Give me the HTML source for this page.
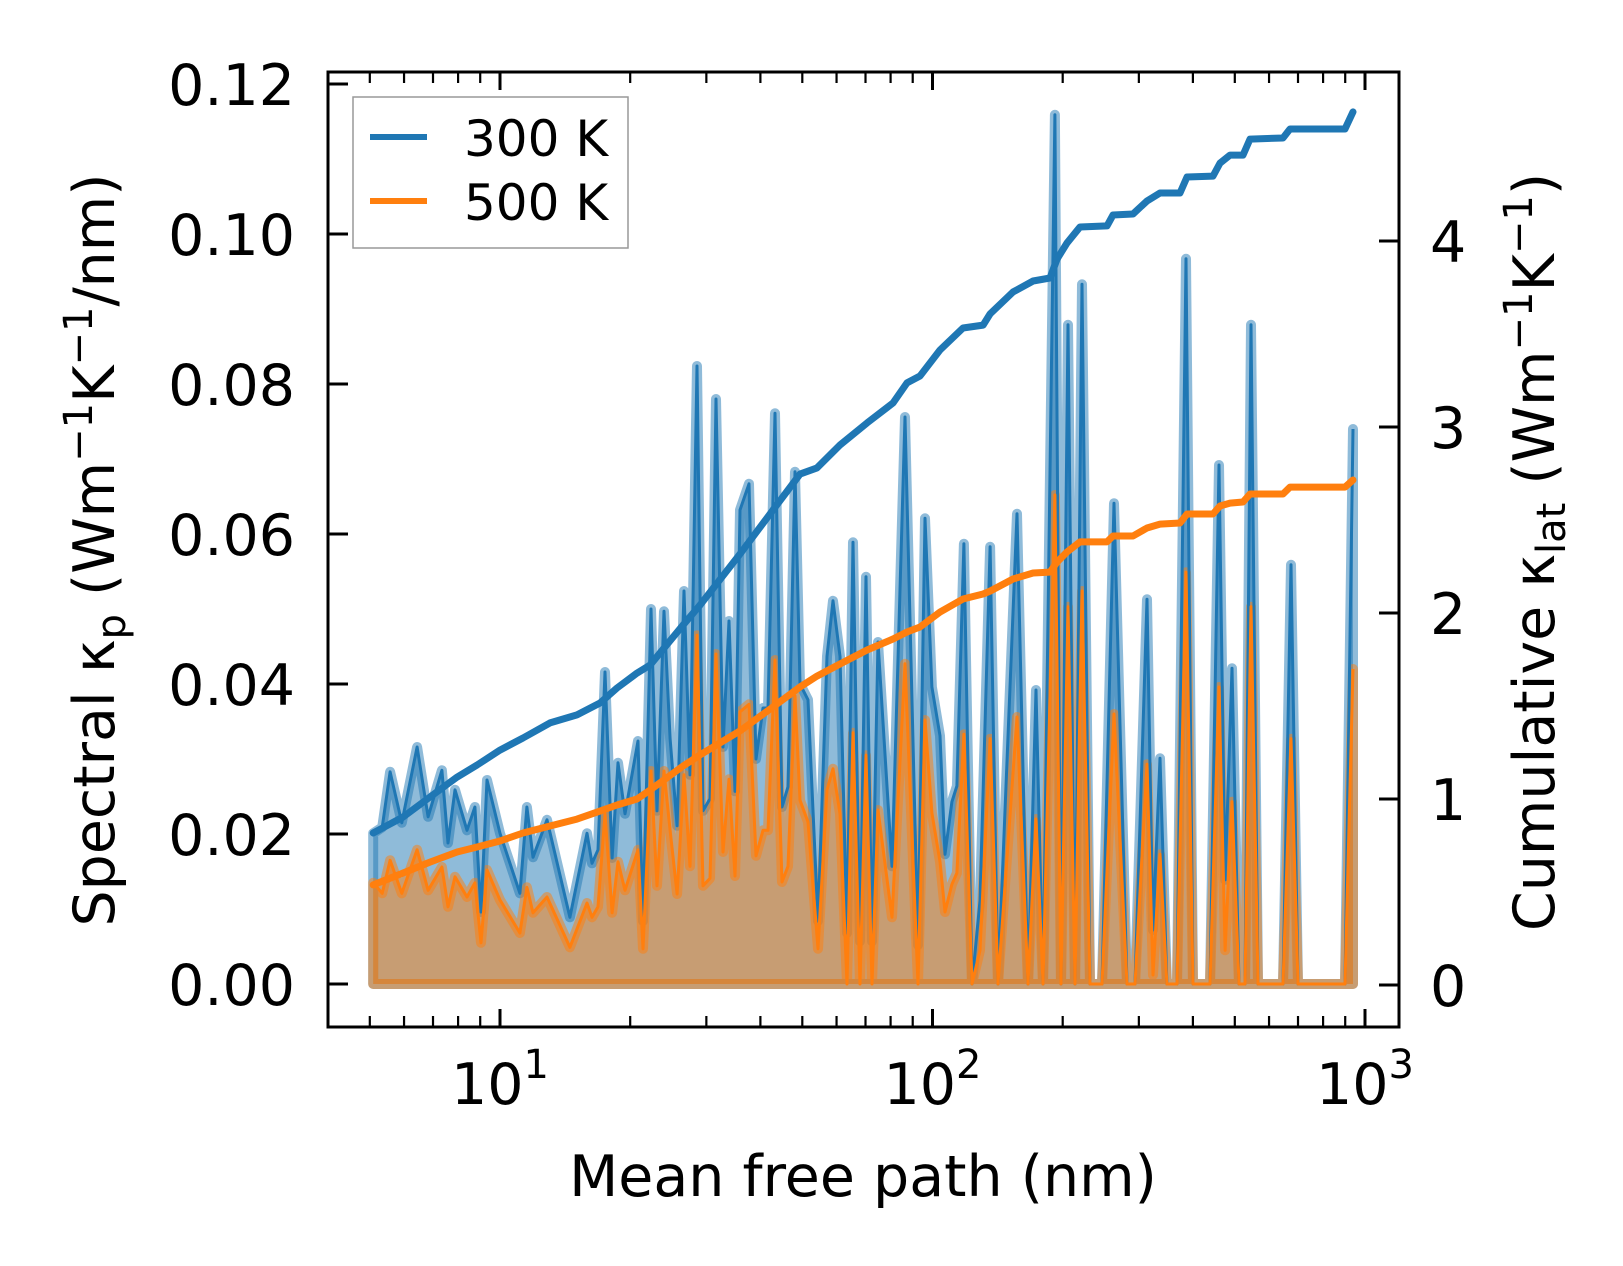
<!DOCTYPE html>
<html><head><meta charset="utf-8"><style>
html,body{margin:0;padding:0;background:#fff;}
svg{display:block;font-family:"DejaVu Sans","Liberation Sans",sans-serif;}
</style></head><body>
<svg id="chart" width="1623" height="1266" viewBox="0 0 1623 1266" xmlns="http://www.w3.org/2000/svg">
<rect width="1623" height="1266" fill="#fff"/>
<g id="marks"></g>
<g id="axes"></g>
<rect x="328" y="72" width="1071" height="955" fill="none" stroke="#000" stroke-width="3"/>
<g>
<rect x="353" y="97" width="275" height="151" fill="#fff" fill-opacity="0.8" stroke="#999" stroke-width="1.5"/>
<line x1="370" y1="137" x2="427" y2="137" stroke="#1f77b4" stroke-width="6"/>
<text x="464" y="156" font-size="50">300 K</text>
<line x1="370" y1="201" x2="427" y2="201" stroke="#ff7f0e" stroke-width="6"/>
<text x="464" y="220" font-size="50">500 K</text>
</g>
<text x="863" y="1196" font-size="57" text-anchor="middle">Mean free path (nm)</text>
<text transform="translate(114,550) rotate(-90)" font-size="57" text-anchor="middle">Spectral κ<tspan font-size="40" dy="11">p</tspan><tspan dy="-11"> (Wm</tspan><tspan font-size="40" dy="-22">−1</tspan><tspan dy="22">K</tspan><tspan font-size="40" dy="-22">−1</tspan><tspan dy="22">/nm)</tspan></text>
<text transform="translate(1554,552) rotate(-90)" font-size="57" text-anchor="middle">Cumulative κ<tspan font-size="40" dy="11">lat</tspan><tspan dy="-11"> (Wm</tspan><tspan font-size="40" dy="-22">−1</tspan><tspan dy="22">K</tspan><tspan font-size="40" dy="-22">−1</tspan><tspan dy="22">)</tspan></text>
</svg>
<script>
const mfp = [5.09,5.34,5.57,5.93,6.43,6.82,7.34,7.58,7.87,8.39,8.75,9.04,9.33,10.0,11.12,11.54,11.92,12.84,14.51,15.89,16.32,16.85,17.49,18.16,18.74,19.45,20.85,21.41,22.34,23.07,23.94,24.73,25.67,26.64,27.50,28.55,29.47,30.59,31.58,32.78,33.85,34.95,35.89,37.65,39.08,40.56,41.66,43.24,44.87,46.34,48.10,49.39,51.54,54.36,57.02,58.88,61.11,63.44,65.50,67.99,70.19,72.47,74.82,80.62,86.39,92.58,96.09,99.7,104.1,106.9,110.9,113.9,118.2,123.4,128.8,135.9,141.7,156.8,166.3,173.5,180.1,191.9,198.2,205.7,213.5,221.6,231.3,246.6,262.8,281.7,293.9,313.3,323.5,335.7,348.4,367.5,385.5,400.2,438.2,459.7,474.7,492.7,511.4,527.9,545.1,565.8,646.2,674.3,699.9,899.0,938.3];
const spec300 = [0.0201,0.0209,0.0283,0.0215,0.0316,0.0223,0.0285,0.0188,0.0259,0.0205,0.0236,0.0096,0.0272,0.0201,0.0121,0.0236,0.0169,0.0219,0.0089,0.0201,0.0161,0.0179,0.0416,0.0168,0.0295,0.0227,0.0324,0.0084,0.0500,0.0231,0.0497,0.0327,0.0211,0.0524,0.0279,0.0824,0.0231,0.0247,0.0780,0.0316,0.0484,0.0257,0.0632,0.0667,0.0300,0.0368,0.0368,0.0761,0.0236,0.0263,0.0683,0.0400,0.0379,0.0084,0.0437,0.0511,0.0437,0.0068,0.0589,0.0057,0.0543,0.0057,0.0456,0.0157,0.0756,0.0052,0.0621,0.0396,0.0331,0.0173,0.0243,0.0264,0.0587,0,0.0111,0.0583,0,0.0627,0,0.0392,0,0.1159,0,0.0879,0,0.0933,0,0,0.0641,0,0,0.0513,0.0072,0.0301,0,0,0.0967,0,0,0.0692,0.0139,0.0421,0,0,0.0879,0,0,0.0559,0,0,0.0740];
const spec500 = [0.0135,0.0121,0.0165,0.0121,0.0179,0.0125,0.0156,0.0103,0.0143,0.0116,0.0135,0.0055,0.0152,0.0112,0.0068,0.0129,0.0095,0.0116,0.0049,0.0108,0.0089,0.0103,0.0227,0.0095,0.0163,0.0125,0.0179,0.0047,0.0284,0.0131,0.0284,0.0205,0.0120,0.0279,0.0157,0.0465,0.0131,0.0141,0.0440,0.0176,0.0273,0.0144,0.0363,0.0373,0.0171,0.0205,0.0205,0.0432,0.0136,0.0157,0.0384,0.0245,0.0216,0.0047,0.0259,0.0287,0.0227,0,0.0335,0,0.0305,0,0.0232,0.0089,0.0427,0,0.0352,0.0228,0.0163,0.0096,0.0133,0.0148,0.0333,0,0.0045,0.0327,0,0.0356,0,0.0220,0,0.0652,0,0.0503,0,0.0524,0,0,0.0360,0,0,0.0293,0.0012,0.0173,0,0,0.0549,0,0,0.0396,0.0045,0.0243,0,0,0.0503,0,0,0.0327,0,0,0.0420];
const cumMfp = [5.09,5.97,6.89,7.96,8.85,10.0,11.30,13.05,15.07,17.03,18.64,20.74,22.22,26.49,29.01,35.89,42.78,49.39,54.07,61.11,70.58,81.05,87.30,93.56,104.1,117.6,130.9,135.9,153.5,170.8,186.9,194.1,204.6,219.3,253.2,261.4,290.8,313.3,335.7,373.5,387.7,445.3,462.1,487.5,522.3,542.2,646.2,670.7,899.0,938.3];
const cum300 = [0.817,0.903,1.011,1.118,1.183,1.263,1.328,1.409,1.452,1.516,1.597,1.677,1.720,1.935,2.043,2.317,2.554,2.747,2.780,2.903,3.022,3.129,3.237,3.274,3.414,3.532,3.548,3.608,3.726,3.785,3.801,3.903,3.989,4.075,4.081,4.140,4.145,4.215,4.258,4.258,4.344,4.349,4.419,4.462,4.462,4.548,4.554,4.602,4.602,4.694];
const cum500 = [0.538,0.602,0.661,0.715,0.742,0.774,0.817,0.855,0.892,0.935,0.968,1.0,1.048,1.177,1.237,1.366,1.495,1.602,1.661,1.726,1.801,1.860,1.898,1.925,2.005,2.075,2.102,2.118,2.183,2.215,2.220,2.274,2.328,2.382,2.382,2.414,2.414,2.457,2.478,2.484,2.532,2.532,2.575,2.591,2.597,2.640,2.640,2.677,2.677,2.715];
const leftTicks = [0,0.02,0.04,0.06,0.08,0.10,0.12];
const leftTickLabels = ["0.00","0.02","0.04","0.06","0.08","0.10","0.12"];
const rightTicks = [0,1,2,3,4];
const xMajor = [10,100,1000];
const xMajorExp = ["1","2","3"];

const NS = "http://www.w3.org/2000/svg";
const X = m => 500 + 432.5*(Math.log10(m)-1);
const YL = v => 984 - v*7500;
const YR = c => 985 - c*186;
const marks = document.getElementById('marks');
const axes = document.getElementById('axes');
function mk(tag, attrs, parent){
  const e = document.createElementNS(NS, tag);
  for (const k in attrs) e.setAttribute(k, attrs[k]);
  parent.appendChild(e); return e;
}
function linePts(xs, ys, fy){ return xs.map((m,i)=>X(m).toFixed(1)+','+fy(ys[i]).toFixed(1)).join(' '); }
function areaPts(xs, ys){
  return linePts(xs, ys, YL) + ' ' + X(xs[xs.length-1]).toFixed(1)+','+YL(0)+' '+X(xs[0]).toFixed(1)+','+YL(0);
}
const fb = mk('polygon', {points: areaPts(mfp, spec300), fill:'#1f77b4', 'fill-opacity':0.5, stroke:'#1f77b4', 'stroke-opacity':0.5, 'stroke-width':10, 'stroke-linejoin':'round'}, marks);


const fo = mk('polygon', {points: areaPts(mfp, spec500), fill:'#ff7f0e', 'fill-opacity':0.5, stroke:'#ff7f0e', 'stroke-opacity':0.5, 'stroke-width':10, 'stroke-linejoin':'round'}, marks);


const lb = mk('polyline', {points: linePts(mfp, spec300, YL), fill:'none', stroke:'#1f77b4', 'stroke-width':3, 'stroke-linejoin':'round'}, marks);


const lo = mk('polyline', {points: linePts(mfp, spec500, YL), fill:'none', stroke:'#ff7f0e', 'stroke-width':3, 'stroke-linejoin':'round'}, marks);


const cb = mk('polyline', {points: linePts(cumMfp, cum300, YR), fill:'none', stroke:'#1f77b4', 'stroke-width':7, 'stroke-linejoin':'round', 'stroke-linecap':'round'}, marks);


const co = mk('polyline', {points: linePts(cumMfp, cum500, YR), fill:'none', stroke:'#ff7f0e', 'stroke-width':7, 'stroke-linejoin':'round', 'stroke-linecap':'round'}, marks);



leftTicks.forEach((v,i)=>{
  const y = YL(v);
  const t = mk('line', {x1:328, x2:348, y1:y, y2:y, stroke:'#000', 'stroke-width':3}, axes);
  
  
  const l = mk('text', {x:295, y:y+21, 'font-size':57, 'text-anchor':'end'}, axes);
  l.textContent = leftTickLabels[i];
  
  
});
rightTicks.forEach(c=>{
  const y = YR(c);
  const t = mk('line', {x1:1379, x2:1399, y1:y, y2:y, stroke:'#000', 'stroke-width':3}, axes);
  
  
  const l = mk('text', {x:1430, y:y+21, 'font-size':57}, axes);
  l.textContent = String(c);
  
  
});
xMajor.forEach((m,i)=>{
  const x = X(m);
  [[1027,1009],[72,90]].forEach(([a,b])=>{
    const t = mk('line', {x1:x, x2:x, y1:a, y2:b, stroke:'#000', 'stroke-width':3}, axes);
    
    
  });
  const l = mk('text', {x:x, y:1104, 'font-size':57, 'text-anchor':'middle'}, axes);
  
  
  l.textContent = '10';
  const s = mk('tspan', {'font-size':40, dy:-26}, l);
  s.textContent = xMajorExp[i];
});
[1,10,100].forEach(d=>{
  for (let k=2;k<10;k++){
    const v = k*d;
    if (v<4 || v>1198) continue;
    const x = X(v);
    [[1027,1016],[72,83]].forEach(([a,b])=>{
      const t = mk('line', {x1:x, x2:x, y1:a, y2:b, stroke:'#000', 'stroke-width':2.2}, axes);
      
      
    });
  }
});
</script>
</body></html>
